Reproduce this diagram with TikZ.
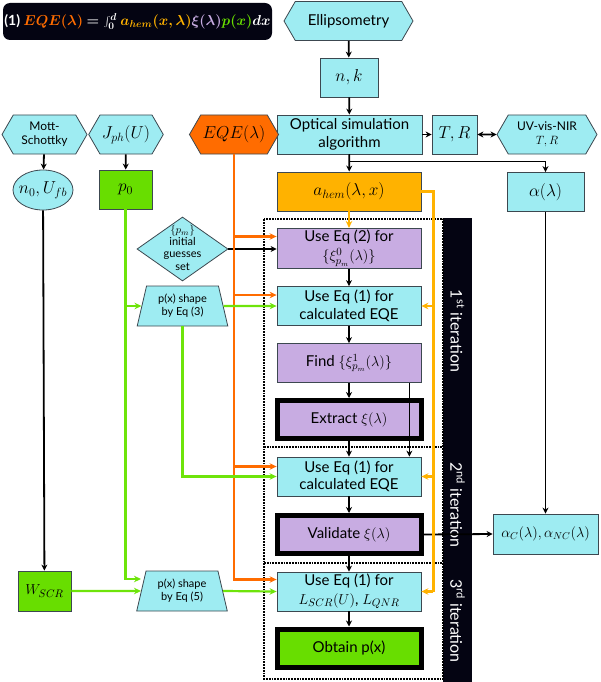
\documentclass[tikz,border=0pt]{standalone}
\usepackage{fontspec}
\setmainfont{Lato}
\usetikzlibrary{shapes.geometric,shapes.symbols,arrows.meta}

\definecolor{boxcyan}{RGB}{158,236,242}
\definecolor{edgegray}{RGB}{60,72,80}
\definecolor{eqeorange}{RGB}{255,108,0}
\definecolor{hemamber}{RGB}{255,178,0}
\definecolor{xilav}{RGB}{200,172,226}
\definecolor{pgreen}{RGB}{104,222,0}
\definecolor{linegreen}{RGB}{110,228,10}
\definecolor{barblack}{RGB}{4,4,18}

\tikzset{
  base/.style={draw=edgegray,line width=0.8pt,align=center,inner sep=2pt,
    font=\fontsize{15}{17.5}\selectfont},
  mathtext/.style={font=\fontsize{16.5}{19}\selectfont},
  cyanbox/.style={base,fill=boxcyan,minimum width=144pt,minimum height=39pt},
  lavbox/.style={cyanbox,fill=xilav},
  thickbox/.style={base,draw=black,line width=5pt,minimum width=144pt,minimum height=38pt},
  hexbox/.style={base,fill=boxcyan,signal,signal to=west and east,
    signal pointer angle=120,minimum height=39pt},
  trapbox/.style={base,fill=boxcyan,trapezium,trapezium angle=76,trapezium stretches=true,
    minimum width=91pt,minimum height=40pt,font=\fontsize{11}{13}\selectfont},
  flow/.style={-{Stealth[length=6pt,width=6pt]},line width=1.8pt,black},
  eqeline/.style={-{Stealth[length=7pt,width=6.5pt]},line width=2.2pt,eqeorange},
  hemline/.style={-{Stealth[length=7pt,width=6.5pt]},line width=2.2pt,hemamber},
  pline/.style={-{Stealth[length=7pt,width=6.5pt]},line width=2.2pt,linegreen},
  iterlabel/.style={rotate=-90,text=white,font=\fontsize{16}{18}\selectfont}
}

\begin{document}
\begin{tikzpicture}[x=1pt,y=-1pt]
    \useasboundingbox (0,0) rectangle (600,682);
    \providecommand{\eqnfontsize}{\fontsize{14}{16}\selectfont}
    % iteration frame and bar
    \fill[barblack] (443,218) rectangle (472,682);
    \draw[line width=1.8pt,densely dotted,black] (264,219) rectangle (443,679);
    \draw[line width=1.8pt,densely dotted,black] (264,447) -- (443,447);
    \draw[line width=1.8pt,densely dotted,black] (264,563) -- (443,563);
    \node[iterlabel] (it1) at (457.5,331) {1\textsuperscript{st} iteration};
    \node[iterlabel] (it2) at (457.5,505) {2\textsuperscript{nd} iteration};
    \node[iterlabel] (it3) at (457.5,621) {3\textsuperscript{rd} iteration};

    % equation
    \fill[barblack,rounded corners=7pt] (3,3) rectangle (272,40);
    \node[text=white,font=\eqnfontsize\bfseries\boldmath] (eqn) at (137.5,21.5)
      {(1) {\color{eqeorange}$EQE(\lambda)$} $=\int_0^d$
      {\color{hemamber}$a_{hem}(x,\lambda)$}{\color{xilav}$\xi(\lambda)$}{\color{pgreen}$p(x)$}$dx$};

    % optical branch
    \node[hexbox,minimum width=129pt] (ellip) at (348.5,21) {Ellipsometry};
    \node[cyanbox,mathtext,minimum width=58pt] (nk) at (349,77.5) {$n,k$};
    \node[cyanbox,minimum width=145pt] (optic) at (349.5,134.5) {Optical simulation\\algorithm};
    \node[cyanbox,mathtext,minimum width=45pt] (tr) at (454.5,134.5) {$T,R$};
    \node[hexbox,minimum width=100pt,font=\fontsize{12}{14}\selectfont] (uvvis) at (547,134.5) {UV-vis-NIR\\$T,R$};
    \node[cyanbox,fill=hemamber,font=\fontsize{17.5}{20}\selectfont] (hem) at (349,191.5) {$a_{hem}(\lambda,x)$};
    \node[cyanbox,mathtext,minimum width=77pt] (alpha) at (545.5,192) {$\alpha(\lambda)$};

    % input branch
    \node[hexbox,minimum width=85pt,font=\fontsize{12}{14}\selectfont] (mott) at (44.5,134.5) {Mott-\\Schottky};
    \node[hexbox,mathtext,minimum width=66pt] (jph) at (126,134.5) {$J_{ph}(U)$};
    \node[hexbox,mathtext,minimum width=78pt,fill=eqeorange] (eqe) at (234,134.5) {$EQE(\lambda)$};
    \node[base,mathtext,fill=boxcyan,ellipse,inner sep=0pt,minimum width=60pt,minimum height=40pt] (n0) at (43,190)
      {\makebox[0pt]{$n_0,U_{fb}$}};
    \node[cyanbox,mathtext,fill=pgreen,minimum width=53pt] (p0) at (125.5,189.5) {$p_0$};
    \node[base,fill=boxcyan,diamond,inner sep=0pt,minimum width=91pt,minimum height=64pt] (guess) at (182.5,249)
      {\smash{\makebox[0pt]{\raisebox{-3pt}{\fontsize{11}{12.2}\selectfont
      \begin{tabular}{@{}c@{}}$\{p_m\}$\\initial\\guesses\\set\end{tabular}}}}};
    \node[trapbox] (shape3) at (182.5,306) {p(x) shape\\by Eq (3)};
    \node[cyanbox,fill=pgreen,minimum width=53pt,minimum height=40pt,font=\fontsize{15.5}{18}\selectfont] (wscr) at (44.5,591) {$W_{SCR}$};
    \node[trapbox] (shape5) at (182,591) {p(x) shape\\by Eq (5)};

    % iteration column
    \node[lavbox,font=\fontsize{15}{19}\selectfont] (eq2) at (349,248.5) {Use Eq (2) for\\$\{\xi^{0}_{p_m}(\lambda)\}$};
    \node[cyanbox] (eq1a) at (349,306) {Use Eq (1) for\\calculated EQE};
    \node[lavbox] (find) at (349,363) {Find $\{\xi^{1}_{p_m}(\lambda)\}$};
    \node[thickbox,fill=xilav] (extract) at (349,419.5) {Extract $\xi(\lambda)$};
    \node[cyanbox] (eq1b) at (349,476.5) {Use Eq (1) for\\calculated EQE};
    \node[thickbox,fill=xilav] (valid) at (349,534.5) {Validate $\xi(\lambda)$};
    \node[cyanbox,minimum width=105pt,minimum height=40pt,font=\fontsize{14}{16}\selectfont] (alphanc) at (545.5,534) {$\alpha_C(\lambda),\alpha_{NC}(\lambda)$};
    \node[cyanbox,font=\fontsize{15}{18.5}\selectfont] (eq1c) at (349,591.5) {Use Eq (1) for\\$L_{SCR}(U)$, $L_{QNR}$};
    \node[thickbox,fill=pgreen] (obtain) at (349,648) {Obtain p(x)};

    % black connectors
    \draw[flow] (ellip) -- (nk);
    \draw[flow] (nk) -- (optic);
    \draw[flow] (optic) -- (tr);
    \draw[flow,{Stealth[length=6pt,width=6pt]}-{Stealth[length=6pt,width=6pt]}] (tr) -- (uvvis);
    \draw[flow] (optic) -- (hem);
    \draw[flow] (optic.south) -- ++(0,7) -| (alpha.north);
    \draw[flow] (alpha) -- (alphanc);
    \draw[flow] (mott) -- (n0);
    \draw[flow] (jph) -- (p0);
    \draw[flow] (n0) -- (wscr);
    \draw[flow] (guess.east) -- (guess.east -| eq2.west);
    \draw[flow] (eq2) -- (eq1a);
    \draw[flow] (eq1a) -- (find);
    \draw[flow] (find) -- (extract);
    \draw[flow] (extract) -- (eq1b);
    \coordinate (findtap) at ([xshift=-12pt]find.south east);
    \draw[flow] (findtap) -- (findtap |- eq1b.north);
    \draw[flow] (eq1b) -- (valid);
    \draw[flow] (valid) -- (eq1c);
    \draw[flow] (eq1c) -- (obtain);
    \draw[flow] (valid.east) -- (alphanc.west);

    % measured EQE
    \draw[eqeline] (eqe.south) |- ([yshift=12pt]eq2.west);
    \draw[eqeline] (eqe.south) |- ([yshift=11pt]eq1a.west);
    \draw[eqeline] (eqe.south) |- ([yshift=10pt]eq1b.west);
    \draw[eqeline] (eqe.south) |- ([yshift=12pt]eq1c.west);

    % absorption profile
    \coordinate (hemrail) at ([xshift=12pt]hem.east);
    \draw[hemline] (hem) -- (eq2);
    \draw[line width=2.2pt,hemamber] (hem.east) -- (hemrail) -- (hemrail |- eq1c.east);
    \draw[hemline] (hemrail |- eq1a.east) -- (eq1a.east);
    \draw[hemline] (hemrail |- eq1b.east) -- (eq1b.east);
    \draw[hemline] (hemrail |- eq1c.east) -- (eq1c.east);

    % p(x) shapes
    \draw[pline] (p0.south) |- (shape3.west);
    \draw[pline] (p0.south) |- ([yshift=12pt]shape5.west);
    \draw[pline] (shape3.east) -- (eq1a.west);
    \draw[pline] (shape3.south) |- (eq1b.west);
    \draw[pline] (wscr) -- (shape5);
    \draw[pline] (shape5.east) -- (eq1c.west);
\end{tikzpicture}
\end{document}
